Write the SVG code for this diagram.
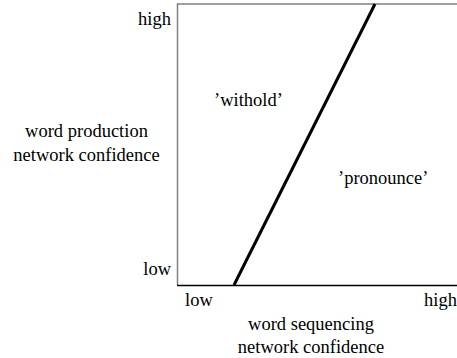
<svg xmlns="http://www.w3.org/2000/svg" width="457" height="358" viewBox="0 0 457 358">
<style>
text{font-family:'Liberation Serif','Times New Roman',Tinos,'DejaVu Serif',serif;font-size:18.5px;fill:#000}
.e{text-anchor:end}.m{text-anchor:middle}
</style>
<rect width="457" height="358" fill="#fff"/>
<g id="axes">
<path d="M177.5,285 V4 H457" fill="none" stroke="#808080" stroke-width="1.5"/>
<path d="M177,285.5 H457" fill="none" stroke="#000" stroke-width="1.5"/>
</g>
<g id="connectors">
<line x1="234" y1="285" x2="375" y2="4" stroke="#000" stroke-width="3"/>
</g>
<g id="ylabels">
<text class="e" x="171" y="25">high</text>
<text class="e" x="171" y="275">low</text>
<text class="m" x="86.5" y="137">word production</text>
<text class="m" x="86.5" y="161">network confidence</text>
</g>
<g id="xlabels">
<text x="185" y="306">low</text>
<text class="e" x="457" y="306">high</text>
<text class="m" x="311" y="330">word sequencing</text>
<text class="m" x="311" y="353">network confidence</text>
</g>
<g id="regions">
<text x="214" y="106">’withold’</text>
<text x="338" y="184">’pronounce’</text>
</g>
</svg>
